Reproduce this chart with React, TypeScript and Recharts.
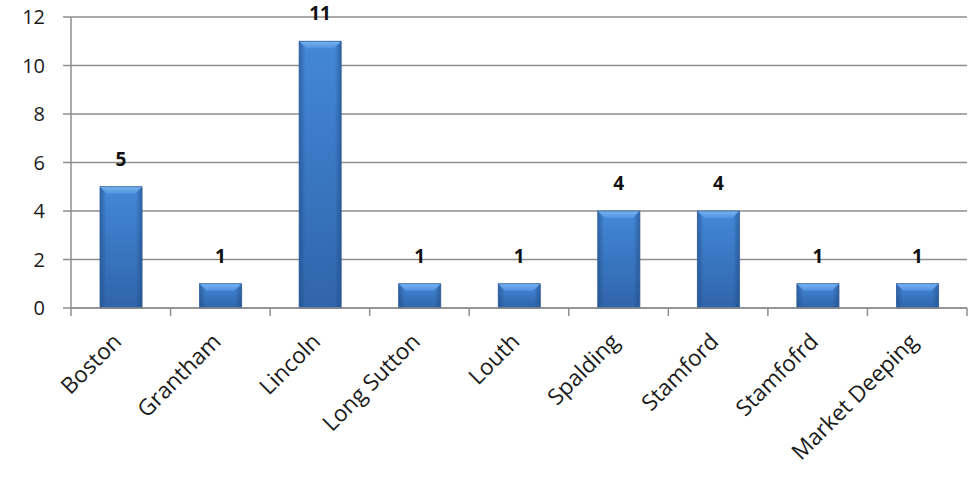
import { BarChart, Bar, XAxis, YAxis, CartesianGrid, LabelList } from 'recharts'

const towns = ['Boston', 'Grantham', 'Lincoln', 'Long Sutton', 'Louth', 'Spalding', 'Stamford', 'Stamfofrd', 'Market Deeping']
const counts = [5, 1, 11, 1, 1, 4, 4, 1, 1]
const yTicks = [0, 2, 4, 6, 8, 10, 12]

const data = towns.map((town, i) => ({ town, count: counts[i] }))

const W = 973
const H = 481
const LEFT = 71
const RIGHT = 6
const BAND = (W - LEFT - RIGHT) / towns.length
const FONT = '"Open Sans", "DejaVu Sans", sans-serif'
const AXIS = '#8e8e8e'

function BevelBar(props: any) {
  const { x, y, width, height } = props
  if (!height || height <= 0) return null
  const b = Math.min(7, height / 2)
  return (
    <g>
      <rect x={x + 1} y={y + 1} width={width} height={height} fill="#000" opacity={0.12} />
      <rect x={x} y={y} width={width} height={height} fill="url(#body)" />
      <rect x={x} y={y} width={width} height={height} fill="url(#edge)" />
      <polygon points={`${x},${y} ${x + width},${y} ${x + width - b},${y + b} ${x + b},${y + b}`} fill="url(#top)" />
      <rect x={x} y={y} width={width} height={height} fill="none" stroke="#2f5f9e" strokeWidth={0.8} />
    </g>
  )
}

function TownTick(props: any) {
  const { x, y, payload, index } = props
  const left = x - BAND / 2
  const ax = x + 2
  const ay = y + 27
  return (
    <g>
      <line x1={left} y1={y - 8} x2={left} y2={y} stroke={AXIS} strokeWidth={1.5} />
      {index === towns.length - 1 && (
        <line x1={x + BAND / 2} y1={y - 8} x2={x + BAND / 2} y2={y} stroke={AXIS} strokeWidth={1.5} />
      )}
      <text
        x={ax}
        y={ay}
        textAnchor="end"
        transform={`rotate(-45 ${ax} ${ay})`}
        fontSize={22.5}
        fontFamily={FONT}
        fill="#1a1a1a"
      >
        {payload.value}
      </text>
    </g>
  )
}

export default function App() {
  return (
    <div style={{ position: 'absolute', left: 0, top: 0, width: W, height: H, background: '#fff' }}>
      <BarChart width={W} height={H} data={data} margin={{ top: 17, right: RIGHT, left: 0, bottom: 0 }} barSize={42}>
        <defs>
          <linearGradient id="body" x1="0" y1="0" x2="0" y2="1">
            <stop offset="0%" stopColor="#4488d8" />
            <stop offset="100%" stopColor="#2f65aa" />
          </linearGradient>
          <linearGradient id="edge" x1="0" y1="0" x2="1" y2="0">
            <stop offset="0%" stopColor="#1d4880" stopOpacity={0.55} />
            <stop offset="15%" stopColor="#1d4880" stopOpacity={0} />
            <stop offset="85%" stopColor="#1d4880" stopOpacity={0} />
            <stop offset="100%" stopColor="#1d4880" stopOpacity={0.55} />
          </linearGradient>
          <linearGradient id="top" x1="0" y1="0" x2="0" y2="1">
            <stop offset="0%" stopColor="#7ab4f0" />
            <stop offset="100%" stopColor="#4f92e0" />
          </linearGradient>
        </defs>
        <CartesianGrid vertical={false} stroke={AXIS} strokeWidth={1.5} />
        <XAxis
          dataKey="town"
          height={173}
          interval={0}
          tickLine={false}
          axisLine={{ stroke: AXIS, strokeWidth: 1.5 }}
          tick={<TownTick />}
        />
        <YAxis
          width={LEFT}
          domain={[0, 12]}
          ticks={yTicks}
          tickSize={8}
          tickMargin={18}
          tickLine={{ stroke: AXIS, strokeWidth: 1.5 }}
          axisLine={{ stroke: AXIS, strokeWidth: 1.5 }}
          tick={{ fontSize: 20, fontFamily: FONT, fill: '#1a1a1a' }}
        />
        <Bar dataKey="count" shape={<BevelBar />} isAnimationActive={false}>
          <LabelList
            dataKey="count"
            position="top"
            offset={21}
            style={{ fontSize: 19, fontWeight: 'bold', fontFamily: FONT, fill: '#111' }}
          />
        </Bar>
      </BarChart>
    </div>
  )
}
